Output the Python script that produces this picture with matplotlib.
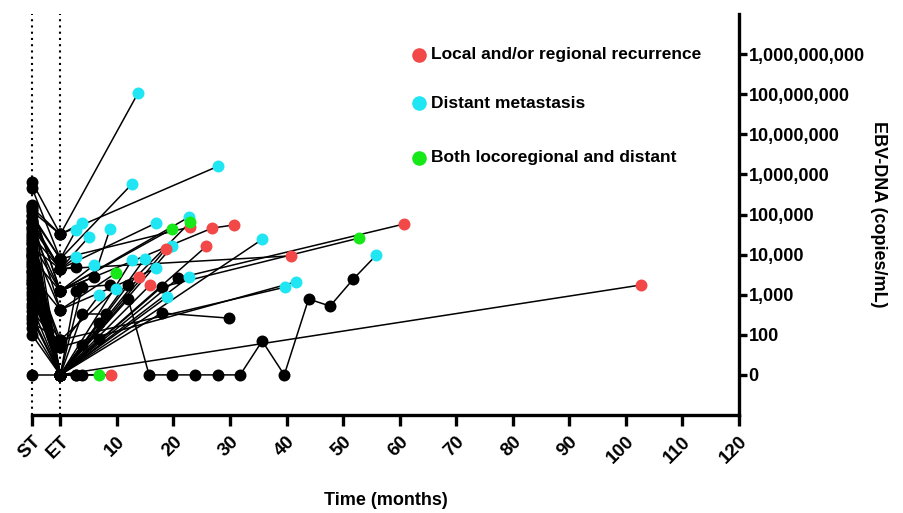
import numpy as np
import matplotlib
matplotlib.use("Agg")
import matplotlib.pyplot as plt

plt.rcParams['font.family'] = ['Liberation Sans', 'DejaVu Sans']
plt.rcParams['font.weight'] = 'bold'

# EBV-DNA per patient (copies/mL): start of treatment (ST), end of treatment (ET), follow-up
st_values = [150000, 650000, 460000, 120000, 90000, 60000, 40000, 30000, 160000, 15000,
             8000, 5000, 25000, 10000, 3000, 2000, 1500, 800, 600, 45000,
             6000, 9000, 2200,
             3500, 20000, 100000, 35000, 12000, 4000, 7000, 50000, 28000, 1000,
             500, 18000, 140000, 170000, 14000,
             5500, 70000, 9500, 2500, 1800, 300, 150, 0, 100, 200,
             75000, 400, 250, 1200, 22000, 65000, 3800, 11000]
et_values = [32000, 32000, 7800, 32000, 7800, 4400, 1240, 4400, 1240, 4400,
             1240, 0, 0, 0, 420, 0, 0, 74, 50, 0,
             74, 50, 0,
             0, 1240, 7800, 0, 0, 0, 0, 4400, 0, 0,
             0, 420, 1240, 0, 0,
             0, 4400, 0, 0, 0, 0, 0, 0, 0, 74,
             420, 50, 0, 0, 0, 0, 0, 0]
fu_times = [[13.8], [27.9], [12.7], [3.9], [2.8], [5.0], [6.0, 8.8], [17.0], [22.8], [2.8],
            [6.0], [12.7], [14.9], [19.8], [17.0], [22.8], [18.9], [9.9], [6.9], [35.7],
            [39.8], [41.7],
            [12.0, 15.7, 19.8, 23.9, 27.9, 31.8, 35.7, 39.6, 43.9, 47.7, 51.8, 55.9],
            [2.8, 9.0], [26.9, 30.8], [23.0], [25.8], [18.7], [15.9], [14.0], [40.8], [20.9, 60.8], [102.7],
            [3.9, 6.9], [9.9], [19.8], [12.0, 23.0], [17.9, 52.9],
            [17.9, 29.9], [2.8], [3.9, 8.8], [3.9, 8.0], [6.9], [6.9], [3.9], [2.8], [], [],
            [], [], [], [], [], [], [], [2.8]]
fu_values = [[1.1e8], [1.6e6], [5.8e5], [62000], [41000], [27000], [2800, 44000], [62000], [87000], [8700],
             [5500], [7400], [7800], [16000], [4600], [2800], [880], [1400], [980], [24000],
             [1550], [2100],
             [780, 0, 0, 0, 0, 0, 70, 0, 780, 520, 2450, 9800],
             [0, 0], [46000, 55000], [49000], [16000], [14000], [1750], [2800], [9300], [2600, 58000], [1750],
             [0, 0], [3500], [44000], [1750, 65000], [1550, 26000],
             [350, 260], [4900], [1550, 1750], [330, 330], [200], [80], [56], [0], [], [],
             [], [], [], [], [], [], [], [1240]]
# k = no event at that visit, r = locoregional, c = distant, g = both
fu_kinds = ["c", "c", "c", "c", "c", "c", "kc", "c", "c", "c",
            "c", "c", "c", "c", "c", "c", "c", "c", "c", "c",
            "c", "c",
            "kkkkkkkkkkkc",
            "kr", "rr", "r", "r", "r", "r", "r", "r", "kr", "r",
            "kg", "g", "g", "kg", "kg",
            "kk", "k", "kk", "kk", "k", "k", "k", "k", "", "",
            "", "", "", "", "", "", "", "k"]

legend_labels = ["Local and/or regional recurrence", "Distant metastasis", "Both locoregional and distant"]
colors = {"k": "black", "r": "#F24848", "c": "#1FE6F2", "g": "#17E817"}

y_tick_pos = [1, 2, 3, 4, 5, 6, 7, 8, 9]
y_tick_labels = ["0", "100", "1,000", "10,000", "100,000", "1,000,000",
                 "10,000,000", "100,000,000", "1,000,000,000"]
x_tick_pos = [-5, 0, 10, 20, 30, 40, 50, 60, 70, 80, 90, 100, 110, 120]
x_tick_labels = ["ST", "ET"] + [str(v) for v in range(10, 130, 10)]


def tr(v):
    # zero is drawn one decade below 100
    return np.log10(v) if v >= 10 else 1.0


fig = plt.figure(figsize=(9.04, 5.13), dpi=100)
ax = fig.add_axes([32 / 904, 1 - 415 / 513, 707 / 904, 401 / 513])

for xv in [-5, 0]:
    ax.axvline(xv, color="black", linestyle=(0, (1, 2)), lw=1.5, zorder=1, clip_on=False)

ms = 8.6
for i in range(len(st_values)):
    xs = [-5, 0] + fu_times[i]
    ys = [tr(v) for v in [st_values[i], et_values[i]] + fu_values[i]]
    kinds = "kk" + fu_kinds[i]
    ax.plot(xs, ys, color="black", lw=1.1, zorder=2, clip_on=False)
    for x, y, k in zip(xs, ys, kinds):
        ax.plot(x, y, "o", color=colors[k], ms=ms, mec="none",
                zorder=4 if k != "k" else 3, clip_on=False)

# legend
for lab, k, yy in zip(legend_labels, ["r", "c", "g"], [8.98, 7.78, 6.41]):
    ax.plot(63.5, yy, "o", color=colors[k], ms=10.5, mec="none", zorder=5)
    ax.text(65.5, yy, lab, fontsize=12.5, fontweight="bold", va="center", ha="left")

ax.set_xlim(-5, 120)
ax.set_ylim(0, 10)
ax.spines["left"].set_visible(False)
ax.spines["top"].set_visible(False)
ax.spines["bottom"].set_linewidth(2.4)
ax.spines["right"].set_linewidth(2.4)

ax.set_xticks(x_tick_pos)
ax.set_xticklabels(x_tick_labels, rotation=45, ha="right", va="top",
                   rotation_mode="anchor", fontsize=13.5, fontweight="bold")
ax.tick_params(axis="x", length=8, width=2.4, pad=5)

ax.yaxis.tick_right()
ax.yaxis.set_label_position("right")
ax.set_yticks(y_tick_pos)
ax.set_yticklabels(y_tick_labels, fontsize=13, fontweight="bold")
ax.tick_params(axis="y", length=6, width=2.4, pad=1)

ax.set_ylabel("EBV-DNA (copies/mL)", rotation=270, fontsize=13, fontweight="bold", labelpad=16)
ax.set_xlabel("Time (months)", fontsize=13, fontweight="bold", labelpad=18)

fig.savefig("out.png", dpi=100)
